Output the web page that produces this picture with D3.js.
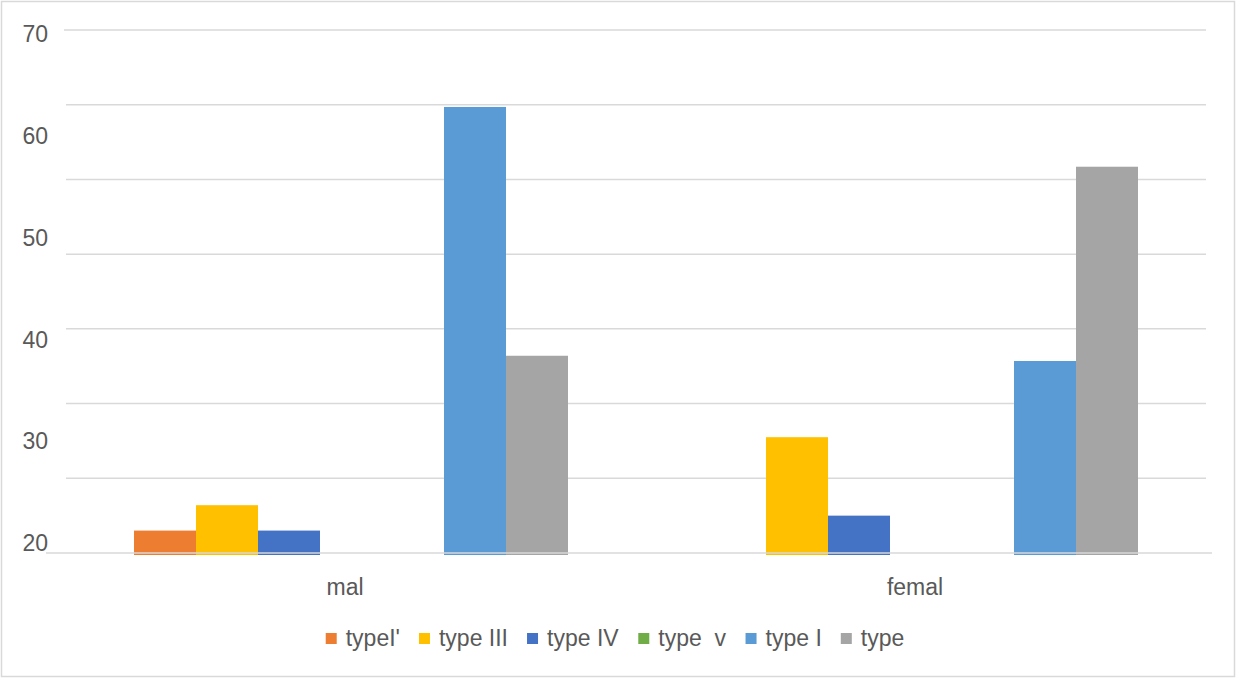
<!DOCTYPE html>
<html>
<head>
<meta charset="utf-8">
<script src="https://cdn.jsdelivr.net/npm/d3@7"></script>
<style>
  body { margin: 0; background: #fff; }
  text { font-family: "Liberation Sans", Arial, sans-serif; fill: #595959; }
</style>
</head>
<body>
<div id="chart"></div>
<script>
// data
var categories = ["mal", "femal"];
var seriesNames = ["typeI'", "type III", "type IV", "type  v", "", "type I", "type"];
var seriesColors = ["#ED7D31", "#FFC000", "#4472C4", "#70AD47", "#7F7F7F", "#5B9BD5", "#A5A5A5"];
var malValues = [3, 6.4, 3, null, null, 59.7, 26.4];
var femalValues = [null, 15.5, 5, null, null, 25.7, 51.7];
var gridTicks = [0, 10, 20, 30, 40, 50, 60, 70];
var axisLabels = [70, 60, 50, 40, 30, 20];

var W = 1236, H = 678;
var margin = {top: 30, right: 30, bottom: 125, left: 66},
    width = 1206 - margin.left,
    height = 553 - margin.top;

var svg = d3.select("#chart")
    .append("svg")
        .attr("width", W)
        .attr("height", H);

// outer frame
svg.append("rect")
    .attr("x", 1.5).attr("y", 1.5)
    .attr("width", W - 3).attr("height", H - 3)
    .attr("fill", "#fff")
    .attr("stroke", "#d9d9d9")
    .attr("stroke-width", 1.5);

var g = svg.append("g")
    .attr("transform", "translate(" + margin.left + "," + margin.top + ")");

var x0 = d3.scaleBand().domain(categories).range([0, width]).paddingInner(0.2386).paddingOuter(0.1193);
var x1 = d3.scaleBand().domain(d3.range(seriesNames.length)).range([0, x0.bandwidth()]);
var y = d3.scaleLinear().domain([0, 70]).range([height, 0]);

// the label column is spaced on its own, as in the source picture
var yLab = d3.scaleLinear().domain([20, 70]).range([height - 10, 4]);

// gridlines
g.selectAll(".grid")
    .data(gridTicks.filter(function(d) { return d > 0; }))
    .enter().append("line")
        .attr("class", "grid")
        .attr("x1", function(d) { return d === 70 ? -2 : 0; })
        .attr("x2", width)
        .attr("y1", function(d) { return y(d); })
        .attr("y2", function(d) { return y(d); })
        .attr("stroke", "#d9d9d9")
        .attr("stroke-width", 1.5);

var rows = [malValues, femalValues];
var groups = g.selectAll(".cat")
    .data(categories)
    .enter().append("g")
        .attr("class", "cat")
        .attr("transform", function(d) { return "translate(" + x0(d) + ",0)"; });

groups.selectAll("rect")
    .data(function(d, i) {
        return rows[i].map(function(v, j) { return {s: j, v: v}; }).filter(function(e) { return e.v != null; });
    })
    .enter().append("rect")
        .attr("x", function(d) { return x1(d.s); })
        .attr("width", x1.bandwidth())
        .attr("y", function(d) { return y(d.v); })
        .attr("height", function(d) { return y(0) - y(d.v) + 2; })
        .attr("fill", function(d) { return seriesColors[d.s]; });

// baseline
g.append("line")
    .attr("x1", -20).attr("x2", width + 6)
    .attr("y1", y(0)).attr("y2", y(0))
    .attr("stroke", "#d9d9d9")
    .attr("stroke-width", 1.5);

// y labels
g.selectAll(".ylab")
    .data(axisLabels)
    .enter().append("text")
        .attr("class", "ylab")
        .attr("x", -18)
        .attr("y", function(d) { return yLab(d); })
        .attr("dy", "0.36em")
        .attr("text-anchor", "end")
        .style("font-size", "23px")
        .text(function(d) { return d; });

// category labels
g.selectAll(".xlab")
    .data(categories)
    .enter().append("text")
        .attr("class", "xlab")
        .attr("x", function(d) { return x0(d) + x0.bandwidth() / 2 - 6; })
        .attr("y", height + 42)
        .attr("text-anchor", "middle")
        .style("font-size", "23px")
        .text(function(d) { return d; });

// legend
var legendItems = seriesNames.map(function(n, i) { return {name: n, color: seriesColors[i]}; })
    .filter(function(d) { return d.name !== ""; });

var legend = svg.append("g");
var items = legend.selectAll(".leg")
    .data(legendItems)
    .enter().append("g")
        .attr("class", "leg");

items.append("rect")
    .attr("width", 11).attr("height", 11)
    .attr("y", -12)
    .attr("fill", function(d) { return d.color; });

items.append("text")
    .attr("x", 20)
    .attr("y", 0)
    .attr("dy", "0.05em")
    .style("font-size", "23px")
    .style("white-space", "pre")
    .attr("xml:space", "preserve")
    .text(function(d) { return d.name; });

var pos = 0, offsets = [];
items.each(function() {
    offsets.push(pos);
    pos += this.getBBox().width + 19;
});
pos -= 19;
var startX = 615 - pos / 2;
items.attr("transform", function(d, i) { return "translate(" + (startX + offsets[i]) + ",645)"; });
</script>
</body>
</html>
